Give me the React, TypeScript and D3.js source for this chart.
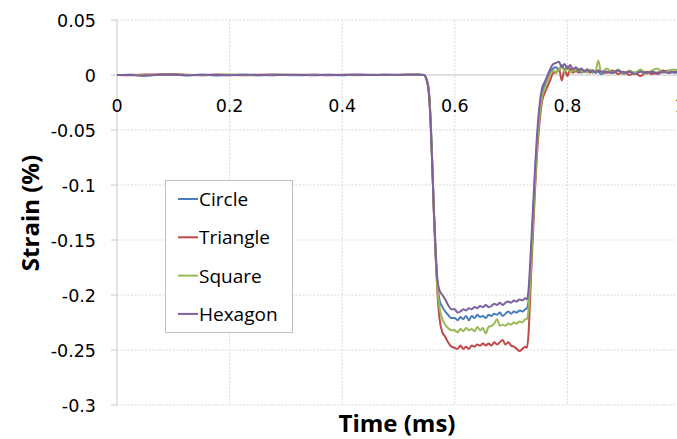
import React from 'react';
import * as d3 from 'd3';

// time axis (ms), shared by all four series
const time = [
  // baseline
  0, 0.025, 0.05, 0.075, 0.1, 0.125, 0.15, 0.175, 0.2, 0.225, 0.25, 0.275, 0.3, 0.325, 0.35, 0.375, 0.4, 0.425, 0.45, 0.475, 0.5, 0.52, 0.535,
  // drop
  0.545, 0.55, 0.554, 0.557, 0.56, 0.563, 0.566, 0.569, 0.573, 0.578, 0.583, 0.588, 0.594,
  // plateau
  0.6, 0.605, 0.61, 0.615, 0.62, 0.625, 0.63, 0.635, 0.64, 0.645, 0.65, 0.655, 0.66, 0.665, 0.67, 0.675, 0.68, 0.685, 0.69, 0.695, 0.7, 0.705, 0.71, 0.715, 0.72, 0.725,
  // rise
  0.728, 0.731, 0.734, 0.737, 0.74, 0.743, 0.746, 0.75, 0.755, 0.76, 0.765, 0.77, 0.775,
  // after
  0.78, 0.785, 0.79, 0.795, 0.8, 0.805, 0.81, 0.815, 0.82, 0.825, 0.83, 0.835, 0.84, 0.845, 0.85, 0.855, 0.86,
  0.87, 0.88, 0.89, 0.9, 0.91, 0.92, 0.93, 0.94, 0.95, 0.96, 0.97, 0.98, 0.99, 1.0,
];

const circle = [
  0, 0.0002, -0.0003, 0.0001, 0.0004, -0.0002, 0.0003, -0.0004, 0.0001, 0.0002, -0.0002, 0.0003, 0, -0.0003, 0.0002, 0.0001, -0.0002, 0.0003, 0, 0.0002, -0.0001, 0.0002, 0.0003,
  0.0001, -0.004, -0.015, -0.04, -0.08, -0.125, -0.162, -0.19, -0.205, -0.211, -0.215, -0.218, -0.221,
  -0.221, -0.223, -0.22, -0.222, -0.219, -0.223, -0.219, -0.221, -0.218, -0.22, -0.219, -0.221, -0.218, -0.219, -0.217, -0.218, -0.216, -0.219, -0.217, -0.215, -0.217, -0.215, -0.216, -0.214, -0.215, -0.213,
  -0.212, -0.205, -0.18, -0.15, -0.118, -0.088, -0.062, -0.036, -0.016, -0.009, -0.003, 0.003, 0.006,
  0.007, 0.004, 0.009, 0.005, 0.008, 0.004, 0.006, 0.003, 0.005, 0.002, 0.004, 0.003, 0.004, 0.002, 0.004, 0.003, 0.001,
  0.003, 0.002, 0.004, 0.001, 0.003, 0.002, 0.004, 0.002, 0.003, 0.002, 0.003, 0.004, 0.002, 0.003,
];

const triangle = [
  0, -0.0002, 0.0004, 0.0006, 0.0009, 0.0003, -0.0002, 0.0004, 0.0001, -0.0003, 0.0002, 0.0004, -0.0001, 0.0002, 0.0003, -0.0002, 0.0001, 0.0003, 0.0002, -0.0001, 0.0003, 0.0004, 0.0002,
  0.0001, -0.004, -0.016, -0.042, -0.082, -0.128, -0.165, -0.197, -0.222, -0.234, -0.238, -0.243, -0.247,
  -0.248, -0.249, -0.246, -0.249, -0.247, -0.249, -0.246, -0.247, -0.245, -0.246, -0.244, -0.246, -0.244, -0.246, -0.243, -0.245, -0.243, -0.241, -0.245, -0.243, -0.246, -0.247, -0.249, -0.251, -0.249, -0.247,
  -0.248, -0.235, -0.2, -0.165, -0.132, -0.1, -0.072, -0.046, -0.024, -0.016, -0.01, -0.004, 0.002,
  0.002, 0.006, -0.005, 0.005, -0.001, 0.006, 0.002, 0.005, 0.002, 0.004, 0.003, 0.005, 0.002, 0.004, 0.002, 0.004, 0.003,
  0.002, 0.004, 0.001, 0.003, 0.0, 0.002, -0.001, 0.003, 0.001, 0.002, 0.004, 0.002, 0.003, 0.002,
];

const square = [
  0, 0.0003, -0.0004, 0.0002, 0.0005, 0.0001, -0.0003, 0.0002, 0.0004, 0, -0.0002, 0.0001, 0.0003, 0, -0.0001, 0.0003, 0.0002, -0.0002, 0.0001, 0.0003, 0, 0.0002, 0.0004,
  0.0001, -0.004, -0.015, -0.041, -0.081, -0.126, -0.163, -0.193, -0.212, -0.222, -0.227, -0.23, -0.232,
  -0.232, -0.234, -0.231, -0.233, -0.23, -0.232, -0.231, -0.233, -0.229, -0.232, -0.23, -0.235, -0.229, -0.228, -0.226, -0.222, -0.228, -0.227, -0.228, -0.226, -0.227, -0.225, -0.226, -0.224, -0.225, -0.222,
  -0.222, -0.213, -0.188, -0.156, -0.124, -0.093, -0.066, -0.04, -0.02, -0.012, -0.005, 0.001, 0.004,
  0.002, 0.005, 0.008, 0.003, 0.007, 0.002, 0.005, 0.004, 0.006, 0.003, 0.004, 0.002, 0.005, 0.003, 0.004, 0.013, 0.002,
  0.006, 0.002, 0.005, 0.001, 0.004, 0.002, 0.005, 0.001, 0.004, 0.006, 0.002, 0.004, 0.005, 0.003,
];

const hexagon = [
  0, -0.0001, -0.0006, 0.0002, 0.0003, -0.0004, 0.0002, 0.0001, -0.0003, 0.0002, 0.0001, -0.0002, 0.0003, 0.0001, -0.0002, 0.0002, 0, 0.0003, -0.0001, 0.0002, 0.0001, 0.0003, 0.0004,
  0, -0.005, -0.017, -0.043, -0.083, -0.125, -0.16, -0.185, -0.196, -0.2, -0.204, -0.209, -0.213,
  -0.213, -0.216, -0.215, -0.213, -0.214, -0.212, -0.213, -0.211, -0.212, -0.21, -0.211, -0.209, -0.211, -0.21, -0.208, -0.209, -0.207, -0.209, -0.207, -0.206, -0.207, -0.205, -0.206, -0.204, -0.205, -0.203,
  -0.204, -0.195, -0.17, -0.14, -0.11, -0.08, -0.055, -0.03, -0.012, -0.006, 0.0, 0.006, 0.01,
  0.011, 0.012, 0.007, 0.01, 0.006, 0.009, 0.005, 0.007, 0.004, 0.006, 0.003, 0.005, 0.003, 0.004, 0.002, 0.004, 0.003,
  0.003, 0.002, 0.004, 0.002, 0.003, 0.001, 0.003, 0.002, 0.003, 0.001, 0.003, 0.002, 0.003, 0.002,
];

const seriesNames = ['Circle', 'Triangle', 'Square', 'Hexagon'];
const seriesValues = [circle, triangle, square, hexagon];
const seriesColors = ['#4a7ebb', '#be4b48', '#98b954', '#7d60a0'];

const yTicks = [0.05, 0, -0.05, -0.1, -0.15, -0.2, -0.25, -0.3];
const xTicks = [0, 0.2, 0.4, 0.6, 0.8, 1];

export default function App() {
  const W = 677, H = 439;
  const x = d3.scaleLinear().domain([0, 1]).range([117, 680]);
  const y = d3.scaleLinear().domain([-0.3, 0.05]).range([405, 20]);

  const line = d3.line<[number, number]>()
    .x(d => x(d[0]))
    .y(d => y(d[1]))
    .curve(d3.curveMonotoneX);

  const grid = '#d9d9d9';
  const tickFont = '"DejaVu Sans", sans-serif';
  const labelFont = '"Open Sans", sans-serif';

  return (
    <svg width={W} height={H} style={{ position: 'absolute', left: 0, top: 0, background: '#fff' }}>
      {/* horizontal gridlines */}
      {yTicks.filter(t => t !== 0).map(t => (
        <line key={'h' + t} x1={117} x2={W} y1={y(t)} y2={y(t)} stroke={grid} strokeDasharray="2,1.5" />
      ))}
      {/* vertical gridlines */}
      {xTicks.filter(t => t !== 0).map(t => (
        <line key={'v' + t} x1={x(t)} x2={x(t)} y1={y(0.05)} y2={y(-0.3)} stroke={grid} strokeDasharray="2,1.5" />
      ))}
      {/* y axis ticks and line */}
      {yTicks.map(t => (
        <line key={'yt' + t} x1={111} x2={117} y1={y(t)} y2={y(t)} stroke="#c8c8c8" />
      ))}
      <line x1={117} x2={117} y1={y(0.05)} y2={y(-0.3)} stroke="#c8c8c8" />
      <line x1={117} x2={W} y1={y(0)} y2={y(0)} stroke="#c0c0c0" />

      {/* y tick labels */}
      {yTicks.map(t => (
        <text key={'yl' + t} x={96} y={y(t) + 6.5} textAnchor="end" fontFamily={tickFont} fontSize={17.5} fill="#000">
          {t === 0 ? '0' : String(t)}
        </text>
      ))}
      {/* x tick labels */}
      {xTicks.map(t => (
        <text key={'xl' + t} x={x(t)} y={112} textAnchor="middle" fontFamily={tickFont} fontSize={17.5} fill="#000">
          {String(t)}
        </text>
      ))}

      {/* series */}
      {seriesValues.map((vals, i) => {
        const pts = time.map((t, j) => [t, vals[j]] as [number, number]).filter(p => p[1] !== undefined);
        return (
          <path key={seriesNames[i]} d={line(pts) || ''} fill="none" stroke={seriesColors[i]}
            strokeWidth={2} strokeLinejoin="round" />
        );
      })}

      {/* legend */}
      <rect x={165.5} y={180.5} width={127} height={152} fill="#fff" stroke="#bfbfbf" />
      {seriesNames.map((n, i) => {
        const cy = 199 + i * 38.3;
        return (
          <g key={'lg' + n}>
            <line x1={178} x2={198} y1={cy} y2={cy} stroke={seriesColors[i]} strokeWidth={2} />
            <text x={199} y={cy + 7} fontFamily={labelFont} fontSize={19} fill="#000">{n}</text>
          </g>
        );
      })}

      {/* axis titles */}
      <text x={397} y={432} textAnchor="middle" fontFamily={labelFont} fontWeight="bold" fontSize={24} fill="#000">
        Time (ms)
      </text>
      <text transform="translate(39,213) rotate(-90)" textAnchor="middle" fontFamily={labelFont} fontWeight="bold" fontSize={24} fill="#000">
        Strain (%)
      </text>
    </svg>
  );
}
